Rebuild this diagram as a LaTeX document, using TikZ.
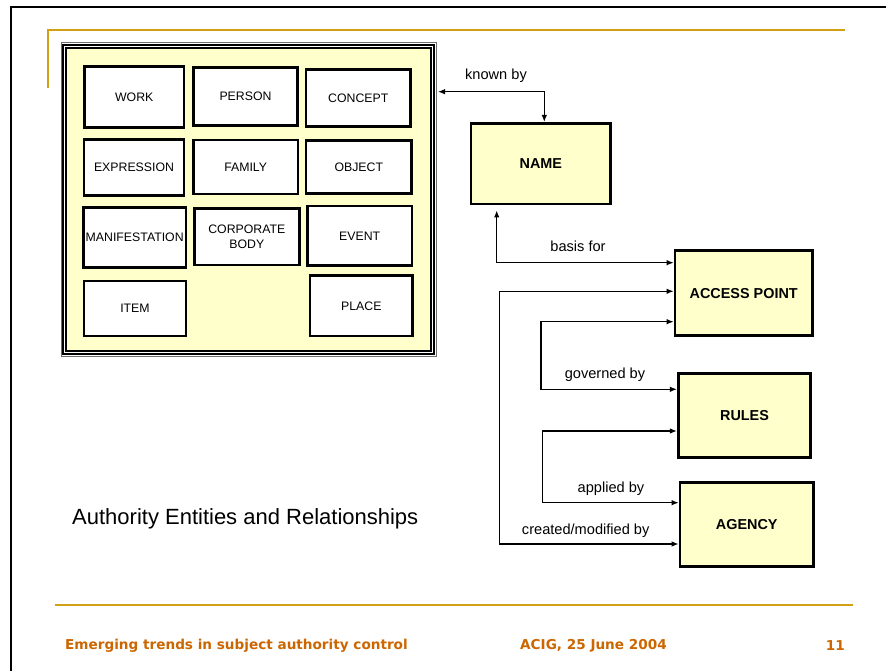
\documentclass[tikz,border=0pt]{standalone}
\usepackage{fontspec}
\setmainfont{Liberation Sans}
\newfontfamily\footfont{DejaVu Sans}
\usetikzlibrary{arrows.meta,calc}
\definecolor{paleyellow}{RGB}{255,255,204}
\definecolor{goldline}{RGB}{210,160,20}
\definecolor{footorange}{RGB}{204,102,0}
\definecolor{framegray}{RGB}{110,110,110}
\begin{document}
\begin{tikzpicture}[x=1pt,y=-1pt,
  ebox/.style={draw=black, line width=2.6pt, fill=white, inner sep=0pt, align=center,
    font=\fontsize{12.3}{15.3}\selectfont},
  ybox/.style={draw=black, line width=2.8pt, fill=paleyellow, inner sep=0pt, align=center,
    font=\fontsize{14.4}{17}\selectfont\bfseries},
  lbl/.style={font=\fontsize{14.6}{17}\selectfont, inner sep=0pt},
  conn/.style={draw=black, line width=1.2pt, {Latex[length=7pt,width=5.5pt]}-{Latex[length=7pt,width=5.5pt]}},
  foot/.style={font=\footfont\fontsize{13.6}{16}\selectfont\bfseries, text=footorange, inner sep=0pt}
]
\useasboundingbox (0,0) rectangle (886,671);
\fill[white] (0,0) rectangle (886,671);
% slide frame
\draw[line width=2pt] (10,7) -- (886,7);
\draw[line width=2pt] (11,6) -- (11,671);
% gold rules
\draw[goldline, line width=1.6pt] (48,88) -- (48,30) -- (845,30);
\draw[goldline, line width=2pt] (55,605) -- (853,605);

% entity container
\node[draw=framegray, line width=1pt, minimum width=375pt, minimum height=313pt, inner sep=0pt] (big) at (248.5,199.5) {};
\draw[black, line width=2pt] ([shift={(2.5,2.5)}]big.north west) rectangle ([shift={(-2.5,-2.5)}]big.south east);
\draw[black, line width=1.2pt, fill=paleyellow] ([shift={(5.5,5.5)}]big.north west) rectangle ([shift={(-5.5,-5.5)}]big.south east);

% entities
\node[ebox, minimum width=99.7pt, minimum height=60.6pt] (work) at (134.2,97) {WORK};
\node[ebox, minimum width=104.4pt, minimum height=58pt] (person) at (245.5,96.3) {PERSON};
\node[ebox, minimum width=104.7pt, minimum height=57.4pt] (concept) at (358.3,98) {CONCEPT};
\node[ebox, minimum width=100pt, minimum height=56.4pt] (expression) at (134,167.5) {EXPRESSION};
\node[ebox, minimum width=104.7pt, minimum height=54pt] (family) at (245.7,167) {FAMILY};
\node[ebox, minimum width=105.7pt, minimum height=52.6pt] (object) at (358.8,167) {OBJECT};
\node[ebox, minimum width=102.7pt, minimum height=60pt] (manifestation) at (134.7,237.7) {MANIFESTATION};
\node[ebox, minimum width=105pt, minimum height=56.7pt] (corporate) at (246.8,236.7) {CORPORATE\\BODY};
\node[ebox, minimum width=104.7pt, minimum height=59.7pt] (event) at (359.7,235.8) {EVENT};
\node[ebox, minimum width=102pt, minimum height=55pt] (item) at (135,308.5) {ITEM};
\node[ebox, minimum width=102.7pt, minimum height=60.3pt] (place) at (361.3,305.8) {PLACE};

% right-hand boxes
\node[ybox, minimum width=139.7pt, minimum height=80.7pt] (name) at (540.8,163.7) {NAME};
\node[ybox, minimum width=137.3pt, minimum height=85pt] (access) at (743.7,293.2) {ACCESS POINT};
\node[ybox, minimum width=132.4pt, minimum height=84.4pt] (rules) at (744.5,415.5) {RULES};
\node[ybox, minimum width=133.3pt, minimum height=84.4pt] (agency) at (746.7,524.5) {AGENCY};

% connectors
\coordinate (kb) at (544.3,91.7);
\draw[conn] ([xshift=1.5pt]big.east |- kb) -- (kb) -- (name.north -| kb);
\node[lbl] (lkb) at (496,76) {known by};

\coordinate (bf) at (496.7,262.7);
\draw[conn] ($(name.south -| bf)+(0,5)$) -- (bf) -- (access.west |- bf);
\node[lbl] (lbf) at (578,246.7) {basis for};

\coordinate (cm1) at (499.3,291.3);
\coordinate (cm2) at (499.3,544);
\draw[conn] (access.west |- cm1) -- (cm1) -- (cm2) -- (agency.west |- cm2);
\node[lbl] (lcm) at (585.7,530.7) {created/modified by};

\coordinate (gb1) at (541,321.7);
\coordinate (gb2) at (541,389.3);
\draw[conn] (access.west |- gb1) -- (gb1) -- (gb2) -- (rules.west |- gb2);
\node[lbl] (lgb) at (605,375) {governed by};

\coordinate (ab1) at (542.3,431);
\coordinate (ab2) at (542.3,502.7);
\draw[conn] (rules.west |- ab1) -- (ab1) -- (ab2) -- (agency.west |- ab2);
\node[lbl] (lab) at (611,489) {applied by};

% title
\node[anchor=west, inner sep=0pt, font=\fontsize{22}{26}\selectfont] (title) at (72,519) {Authority Entities and Relationships};

% footer
\node[foot, anchor=west] (f1) at (65,645.5) {Emerging trends in subject authority control};
\node[foot, anchor=west] (f2) at (520,645.5) {ACIG, 25 June 2004};
\node[foot, anchor=east] (f3) at (845,645.5) {11};
\end{tikzpicture}
\end{document}
